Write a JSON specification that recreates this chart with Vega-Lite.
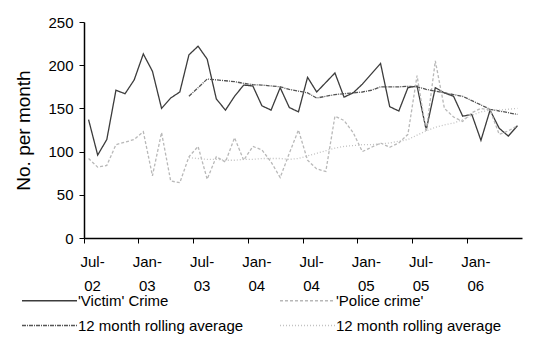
{
  "$schema": "https://vega.github.io/schema/vega-lite/v6.json",
  "autosize": {"type": "none"},
  "padding": {"left": 84, "top": 22, "right": 12, "bottom": 100},
  "width": 438,
  "height": 216,
  "background": "white",
  "config": {"view": {"stroke": null}, "font": "Liberation Sans"},
  "data": {"values": [
    {"month": "Jul-02", "victim": 137, "police": 92, "victimAvg": null, "policeAvg": null},
    {"month": "Aug-02", "victim": 96, "police": 82, "victimAvg": null, "policeAvg": null},
    {"month": "Sep-02", "victim": 114, "police": 84, "victimAvg": null, "policeAvg": null},
    {"month": "Oct-02", "victim": 171, "police": 108, "victimAvg": null, "policeAvg": null},
    {"month": "Nov-02", "victim": 167, "police": 111, "victimAvg": null, "policeAvg": null},
    {"month": "Dec-02", "victim": 183, "police": 114, "victimAvg": null, "policeAvg": null},
    {"month": "Jan-03", "victim": 213, "police": 123, "victimAvg": null, "policeAvg": null},
    {"month": "Feb-03", "victim": 193, "police": 72, "victimAvg": null, "policeAvg": null},
    {"month": "Mar-03", "victim": 150, "police": 122, "victimAvg": null, "policeAvg": null},
    {"month": "Apr-03", "victim": 162, "police": 66, "victimAvg": null, "policeAvg": null},
    {"month": "May-03", "victim": 169, "police": 64, "victimAvg": null, "policeAvg": null},
    {"month": "Jun-03", "victim": 212, "police": 94, "victimAvg": 164, "policeAvg": 93},
    {"month": "Jul-03", "victim": 222, "police": 106, "victimAvg": 174, "policeAvg": 92},
    {"month": "Aug-03", "victim": 207, "police": 68, "victimAvg": 184, "policeAvg": 91},
    {"month": "Sep-03", "victim": 161, "police": 94, "victimAvg": 183, "policeAvg": 91},
    {"month": "Oct-03", "victim": 148, "police": 88, "victimAvg": 182, "policeAvg": 90},
    {"month": "Nov-03", "victim": 164, "police": 116, "victimAvg": 181, "policeAvg": 90},
    {"month": "Dec-03", "victim": 177, "police": 90, "victimAvg": 179, "policeAvg": 91},
    {"month": "Jan-04", "victim": 176, "police": 106, "victimAvg": 177.5, "policeAvg": 91},
    {"month": "Feb-04", "victim": 153, "police": 102, "victimAvg": 177, "policeAvg": 92},
    {"month": "Mar-04", "victim": 148, "police": 88, "victimAvg": 176, "policeAvg": 92},
    {"month": "Apr-04", "victim": 174, "police": 70, "victimAvg": 175, "policeAvg": 92},
    {"month": "May-04", "victim": 151, "police": 98, "victimAvg": 172, "policeAvg": 91},
    {"month": "Jun-04", "victim": 146, "police": 125, "victimAvg": 170, "policeAvg": 92},
    {"month": "Jul-04", "victim": 186, "police": 90, "victimAvg": 168, "policeAvg": 95},
    {"month": "Aug-04", "victim": 169, "police": 80, "victimAvg": 162, "policeAvg": 98},
    {"month": "Sep-04", "victim": 180, "police": 77, "victimAvg": 164, "policeAvg": 101},
    {"month": "Oct-04", "victim": 191, "police": 141, "victimAvg": 166, "policeAvg": 104},
    {"month": "Nov-04", "victim": 163, "police": 136, "victimAvg": 167, "policeAvg": 106},
    {"month": "Dec-04", "victim": 168, "police": 122, "victimAvg": 168, "policeAvg": 107},
    {"month": "Jan-05", "victim": 178, "police": 100, "victimAvg": 169, "policeAvg": 108},
    {"month": "Feb-05", "victim": 190, "police": 105, "victimAvg": 171, "policeAvg": 108},
    {"month": "Mar-05", "victim": 202, "police": 110, "victimAvg": 175, "policeAvg": 109},
    {"month": "Apr-05", "victim": 152, "police": 105, "victimAvg": 175, "policeAvg": 110},
    {"month": "May-05", "victim": 147, "police": 110, "victimAvg": 175, "policeAvg": 112},
    {"month": "Jun-05", "victim": 174, "police": 120, "victimAvg": 175.5, "policeAvg": 114},
    {"month": "Jul-05", "victim": 176, "police": 188, "victimAvg": 175, "policeAvg": 119},
    {"month": "Aug-05", "victim": 125, "police": 123, "victimAvg": 172, "policeAvg": 124},
    {"month": "Sep-05", "victim": 174, "police": 205, "victimAvg": 170, "policeAvg": 128},
    {"month": "Oct-05", "victim": 168, "police": 150, "victimAvg": 168, "policeAvg": 131},
    {"month": "Nov-05", "victim": 164, "police": 140, "victimAvg": 166, "policeAvg": 133},
    {"month": "Dec-05", "victim": 141, "police": 135, "victimAvg": 164, "policeAvg": 137},
    {"month": "Jan-06", "victim": 143, "police": 145, "victimAvg": 159, "policeAvg": 142},
    {"month": "Feb-06", "victim": 113, "police": 150, "victimAvg": 154, "policeAvg": 146},
    {"month": "Mar-06", "victim": 148, "police": 148, "victimAvg": 149, "policeAvg": 148},
    {"month": "Apr-06", "victim": 127, "police": 120, "victimAvg": 147, "policeAvg": 148},
    {"month": "May-06", "victim": 118, "police": 124, "victimAvg": 145, "policeAvg": 149},
    {"month": "Jun-06", "victim": 130, "police": 130, "victimAvg": 143, "policeAvg": 150}
  ]},
  "transform": [
    {"fold": ["victim", "police", "victimAvg", "policeAvg"], "as": ["series", "value"]}
  ],
  "mark": {"type": "line", "strokeWidth": 1.3},
  "encoding": {
    "x": {
      "field": "month", "type": "ordinal", "sort": null, "bandPosition": 0.5,
      "scale": {"type": "band", "paddingInner": 0, "paddingOuter": 0},
      "axis": {
        "title": null,
        "values": ["Jul-02", "Jan-03", "Jul-03", "Jan-04", "Jul-04", "Jan-05", "Jul-05", "Jan-06"],
        "bandPosition": 0,
        "labelExpr": "[split(datum.value, '-')[0] + '-', split(datum.value, '-')[1]]",
        "labelAngle": 0,
        "labelOffset": 4,
        "labelFontSize": 15,
        "labelColor": "black",
        "labelFont": "Liberation Sans",
        "labelLineHeight": 24,
        "labelPadding": 11,
        "labelBaseline": "top",
        "tickSize": 5,
        "tickColor": "black",
        "domainColor": "black",
        "domainWidth": 1.5,
        "grid": false
      }
    },
    "y": {
      "field": "value", "type": "quantitative",
      "scale": {"domain": [0, 250], "nice": false, "zero": true},
      "axis": {
        "title": "No. per month",
        "titleFontSize": 19,
        "titleFontWeight": "normal",
        "titleColor": "black",
        "titleFont": "Liberation Sans",
        "titlePadding": 14,
        "values": [0, 50, 100, 150, 200, 250],
        "labelFontSize": 15,
        "labelColor": "black",
        "labelFont": "Liberation Sans",
        "labelPadding": 6,
        "tickSize": 5,
        "tickColor": "black",
        "domainColor": "black",
        "domainWidth": 1.5,
        "grid": false
      }
    },
    "color": {
      "field": "series", "type": "nominal",
      "scale": {
        "domain": ["victim", "police", "victimAvg", "policeAvg"],
        "range": ["#3c3c3c", "#b8b8b8", "#555555", "#c2c2c2"]
      },
      "legend": {
        "title": null,
        "orient": "none",
        "legendX": -42,
        "legendY": 271,
        "direction": "horizontal",
        "columns": 2,
        "gridAlign": "all",
        "columnPadding": 33,
        "rowPadding": 9,
        "symbolType": "M-5,0H5",
        "symbolSize": 121,
        "symbolStrokeWidth": 1.5,
        "labelFontSize": 15,
        "labelFont": "Liberation Sans",
        "labelColor": "black",
        "labelOffset": 21,
        "labelLimit": 300,
        "labelExpr": "datum.value == 'victim' ? \"'Victim' Crime\" : datum.value == 'police' ? \"'Police crime'\" : '12 month rolling average'"
      }
    },
    "strokeDash": {
      "field": "series", "type": "nominal",
      "scale": {
        "domain": ["victim", "police", "victimAvg", "policeAvg"],
        "range": [[1, 0], [3, 2], [4, 1, 1, 1], [1, 2]]
      },
      "legend": null
    }
  }
}
